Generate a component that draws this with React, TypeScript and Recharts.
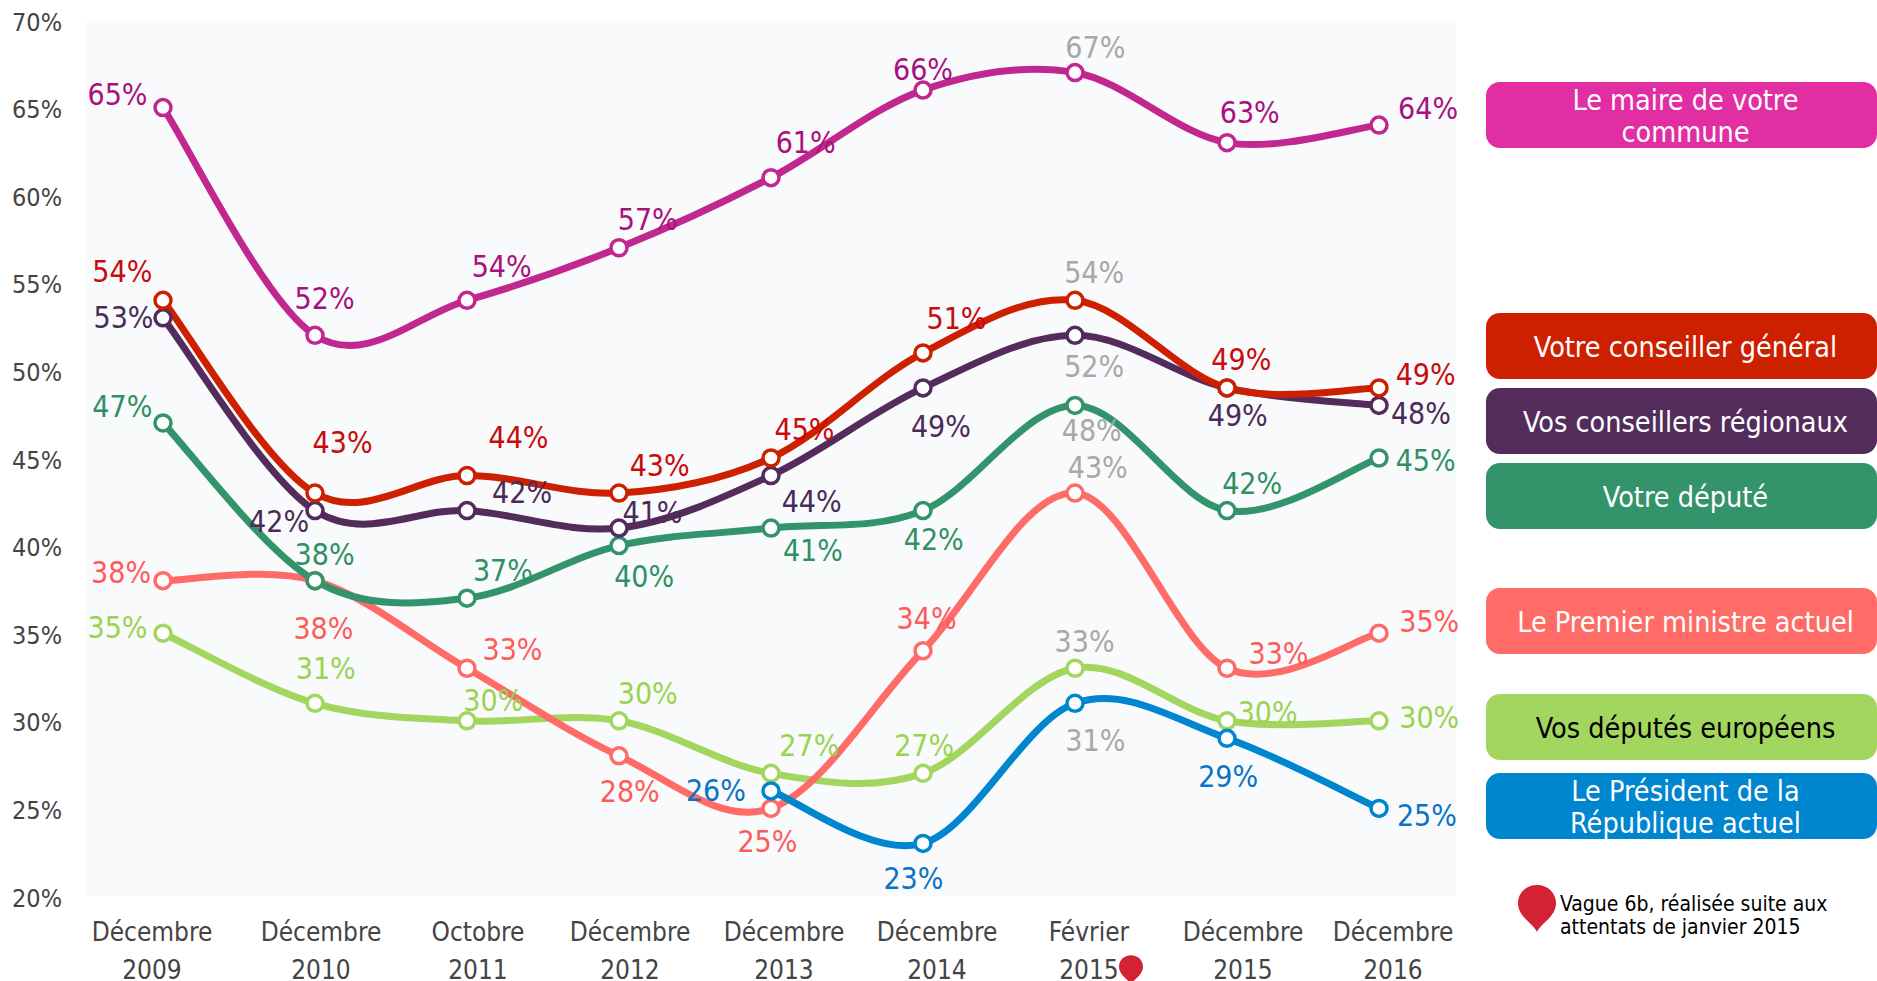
import React from "react";
import { CartesianGrid, LabelList, Line, LineChart, XAxis, YAxis } from "recharts";

const FONT = '"DejaVu Sans Condensed", "DejaVu Sans", sans-serif';

const waves = [
  "Décembre 2009",
  "Décembre 2010",
  "Octobre 2011",
  "Décembre 2012",
  "Décembre 2013",
  "Décembre 2014",
  "Février 2015",
  "Décembre 2015",
  "Décembre 2016"
];
const yTicks = [20, 25, 30, 35, 40, 45, 50, 55, 60, 65, 70];

const maire = [65, 52, 54, 57, 61, 66, 67, 63, 64];
const conseillerGeneral = [54, 43, 44, 43, 45, 51, 54, 49, 49];
const conseillersRegionaux = [53, 42, 42, 41, 44, 49, 52, 49, 48];
const depute = [47, 38, 37, 40, 41, 42, 48, 42, 45];
const premierMinistre = [38, 38, 33, 28, 25, 34, 43, 33, 35];
const deputesEuropeens = [35, 31, 30, 30, 27, 27, 33, 30, 30];
const president = [null, null, null, null, 26, 23, 31, 29, 25];

const data = waves.map((name, i) => ({
  name,
  maire: maire[i],
  conseillerGeneral: conseillerGeneral[i],
  conseillersRegionaux: conseillersRegionaux[i],
  depute: depute[i],
  premierMinistre: premierMinistre[i],
  deputesEuropeens: deputesEuropeens[i],
  president: president[i]
}));

// label offsets from each point, measured on the shrunk picture
const NUDGE_SCALE = 1877 / 1568;
const series = [
  {
    key: "deputesEuropeens", line: "#a2d65e", text: "#98d450",
    nudges: [[-38, -5], [9, -29], [22, -17], [24, -23], [32, -23], [1, -23], [8, -22], [34, -7], [42, -3]]
  },
  {
    key: "premierMinistre", line: "#ff6b66", text: "#ff5a5a",
    nudges: [[-35, -7], [7, 40], [38, -16], [9, 30], [-3, 28], [3, -27], [19, -21], [43, -12], [42, -10]]
  },
  {
    key: "president", line: "#0085cf", text: "#0a73c4",
    nudges: [[0, 0], [0, 0], [0, 0], [0, 0], [-46, 0], [-8, 29], [17, 31], [1, 32], [40, 6]]
  },
  {
    key: "depute", line: "#33936a", text: "#2f9063",
    nudges: [[-34, -14], [8, -22], [30, -23], [21, 26], [35, 19], [9, 24], [14, 21], [21, -23], [39, 2]]
  },
  {
    key: "conseillersRegionaux", line: "#532c5c", text: "#4a2b58",
    nudges: [[-33, 0], [-30, 9], [46, -15], [28, -13], [34, 22], [15, 32], [16, 26], [9, 23], [35, 7]]
  },
  {
    key: "conseillerGeneral", line: "#cc2000", text: "#c80b0b",
    nudges: [[-34, -24], [23, -42], [43, -32], [34, -23], [28, -24], [28, -29], [16, -23], [12, -24], [39, -11]]
  },
  {
    key: "maire", line: "#c0278f", text: "#a8117c",
    nudges: [[-38, -11], [8, -31], [29, -28], [24, -24], [29, -29], [0, -17], [17, -21], [19, -25], [41, -14]]
  }
];

const legend = [
  { label: "Le maire de votre\ncommune", color: "#e22ea3", top: 82, ink: "#fff" },
  { label: "Votre conseiller général", color: "#cc2000", top: 313, ink: "#fff" },
  { label: "Vos conseillers régionaux", color: "#532c5c", top: 388, ink: "#fff" },
  { label: "Votre député", color: "#33936a", top: 463, ink: "#fff" },
  { label: "Le Premier ministre actuel", color: "#ff6b66", top: 588, ink: "#fff" },
  { label: "Vos députés européens", color: "#a3d65f", top: 694, ink: "#000" },
  { label: "Le Président de la\nRépublique actuel", color: "#0085cf", top: 773, ink: "#fff" }
];

// the x labels do not sit exactly under their points in the original
const tickShift = [-11, 6, 11, 11, 13, 14, 14, 16, 14];

// uniform Catmull-Rom, the curve the original seems to use
function catmullRom(context: any) {
  let pts: number[][] = [];
  return {
    areaStart() {},
    areaEnd() {},
    lineStart() {
      pts = [];
    },
    point(x: number, y: number) {
      pts.push([+x, +y]);
    },
    lineEnd() {
      if (!pts.length) return;
      context.moveTo(pts[0][0], pts[0][1]);
      for (let i = 0; i < pts.length - 1; i++) {
        const p0 = pts[Math.max(i - 1, 0)];
        const p1 = pts[i];
        const p2 = pts[i + 1];
        const p3 = pts[Math.min(i + 2, pts.length - 1)];
        context.bezierCurveTo(
          p1[0] + (p2[0] - p0[0]) / 6,
          p1[1] + (p2[1] - p0[1]) / 6,
          p2[0] - (p3[0] - p1[0]) / 6,
          p2[1] - (p3[1] - p1[1]) / 6,
          p2[0],
          p2[1]
        );
      }
    }
  };
}

function WaveTick({ x, y, payload, index }: any) {
  const [month, year] = String(payload.value).split(" ");
  const cx = x + tickShift[index];
  return (
    <text textAnchor="middle" fontFamily={FONT} fontSize={26} fill="#444">
      <tspan x={cx} y={y + 37}>{month}</tspan>
      <tspan x={cx} y={y + 75}>{year}</tspan>
    </text>
  );
}

function PercentTick({ x, y, payload }: any) {
  return (
    <text x={x} y={y + 2} textAnchor="end" dominantBaseline="central" fontFamily={FONT} fontSize={25} fill="#444">
      {payload.value}%
    </text>
  );
}

function PointLabel({ x, y, value, index, color, nudges }: any) {
  if (value == null) return null;
  const [dx, dy] = nudges[index];
  return (
    <text
      x={x + dx * NUDGE_SCALE}
      y={y + dy * NUDGE_SCALE}
      textAnchor="middle"
      dominantBaseline="central"
      fontFamily={FONT}
      fontSize={30}
      fill={index === 6 ? "#a8a8a8" : color}
    >
      {value}%
    </text>
  );
}

function Pin({ left, top, width, height }: any) {
  return (
    <svg style={{ position: "absolute", left, top }} width={width} height={height} viewBox="0 0 38 47">
      <path d="M19 47 C15 38 0 32 0 18 C0 8 8 0 19 0 C30 0 38 8 38 18 C38 32 23 38 19 47 Z" fill="#d22233" />
    </svg>
  );
}

export default function App() {
  return (
    <div style={{ position: "absolute", left: 0, top: 0, width: 1877, height: 981, overflow: "hidden", background: "#fff" }}>
      <LineChart
        width={1877}
        height={981}
        data={data}
        margin={{ top: 20, right: 421, bottom: 55, left: 0 }}
      >
        <CartesianGrid horizontal={false} vertical={false} fill="#f9fafc" />
        <XAxis
          dataKey="name"
          interval={0}
          height={30}
          axisLine={false}
          tickLine={false}
          padding={{ left: 77, right: 77 }}
          tick={<WaveTick />}
        />
        <YAxis
          width={86}
          domain={[20, 70]}
          ticks={yTicks}
          interval={0}
          axisLine={false}
          tickLine={false}
          tickSize={0}
          tickMargin={24}
          tick={<PercentTick />}
        />
        {series.map((s) => (
          <Line
            key={s.key}
            dataKey={s.key}
            type={catmullRom as any}
            stroke={s.line}
            strokeWidth={7}
            dot={{ r: 8, fill: "#fff", stroke: s.line, strokeWidth: 3.5 }}
            isAnimationActive={false}
          >
            <LabelList
              dataKey={s.key}
              content={(props: any) => <PointLabel {...props} color={s.text} nudges={s.nudges} />}
            />
          </Line>
        ))}
      </LineChart>

      {legend.map((item) => (
        <div
          key={item.label}
          style={{
            position: "absolute",
            left: 1486,
            top: item.top,
            width: 391,
            height: 66,
            borderRadius: 14,
            background: item.color,
            color: item.ink,
            fontFamily: FONT,
            fontSize: 28.5,
            lineHeight: "32px",
            textAlign: "center",
            display: "flex",
            alignItems: "center",
            justifyContent: "center",
            whiteSpace: "pre-line",
            paddingLeft: 8,
            paddingTop: 3,
            boxSizing: "border-box"
          }}
        >
          {item.label}
        </div>
      ))}

      <Pin left={1518} top={885} width={38} height={47} />
      <div
        style={{
          position: "absolute",
          left: 1560,
          top: 893,
          fontFamily: FONT,
          fontSize: 21,
          lineHeight: "23px",
          color: "#000",
          whiteSpace: "nowrap"
        }}
      >
        Vague 6b, réalisée suite aux
        <br />
        attentats de janvier 2015
      </div>
      <Pin left={1119} top={955} width={24} height={30} />
    </div>
  );
}
